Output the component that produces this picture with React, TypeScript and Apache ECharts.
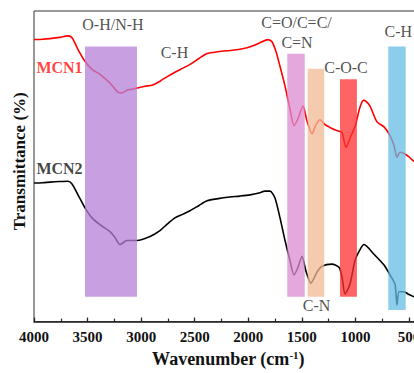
import React, { useEffect, useRef } from "react";
import * as echarts from "echarts";

// MCN1 (red) spectrum: wavenumber (cm-1) and transmittance (a.u., 0-100)
const waveMCN1 = [4000, 3920, 3851, 3760, 3683, 3645, 3589, 3524, 3459, 3384, 3291, 3216, 3179, 3132, 3085, 3039, 2964, 2899, 2824, 2760, 2684, 2610, 2544, 2460, 2385, 2280, 2171, 2090, 2012, 1950, 1891, 1816, 1779, 1741, 1704, 1657, 1611, 1573, 1536, 1489, 1452, 1405, 1368, 1331, 1284, 1247, 1210, 1172, 1125, 1088, 1041, 1004, 957, 920, 864, 799, 733, 677, 640, 612, 584, 547, 500, 453, 400];
const transMCN1 = [90.8, 90.9, 91.1, 91.5, 92.0, 91.4, 87.6, 83.8, 81.2, 79.6, 76.8, 73.9, 73.6, 74.5, 74.8, 75.2, 75.8, 76.1, 77.4, 78.8, 80.3, 81.6, 82.8, 84.7, 86.3, 86.9, 87.3, 87.6, 88.2, 88.9, 89.8, 90.8, 90.1, 86.9, 82.2, 75.8, 68.5, 63.1, 65.3, 69.4, 64.6, 60.5, 63.4, 65.0, 63.4, 62.7, 62.0, 61.5, 60.8, 56.1, 59.9, 62.7, 69.1, 71.3, 69.4, 64.3, 62.7, 59.9, 56.7, 52.9, 54.5, 54.1, 53.0, 51.6, 51.0];

// MCN2 (black) spectrum
const waveMCN2 = [4000, 3920, 3851, 3760, 3683, 3645, 3589, 3524, 3459, 3384, 3291, 3244, 3197, 3132, 3039, 2917, 2824, 2760, 2684, 2610, 2544, 2460, 2385, 2280, 2171, 2080, 1984, 1900, 1844, 1797, 1751, 1704, 1657, 1611, 1573, 1536, 1499, 1461, 1415, 1359, 1312, 1219, 1153, 1125, 1097, 1051, 1004, 957, 920, 827, 733, 677, 631, 612, 593, 547, 500, 453, 400];
const transMCN2 = [44.6, 44.7, 44.9, 45.1, 45.2, 44.3, 40.8, 36.6, 33.4, 31.2, 29.0, 27.1, 24.8, 26.1, 26.1, 27.4, 29.3, 31.3, 33.4, 34.6, 35.7, 37.4, 38.9, 39.6, 40.1, 40.4, 40.8, 41.4, 42.0, 42.0, 39.8, 33.4, 26.1, 19.7, 15.0, 17.5, 21.0, 16.2, 12.4, 15.9, 17.8, 18.5, 17.5, 14.3, 8.9, 12.1, 19.7, 23.2, 24.8, 21.7, 18.2, 15.0, 12.1, 5.4, 9.6, 9.6, 8.7, 8.0, 7.6];

// Highlighted bands: [from, to, bottom, top]
const bandFrom = [3524, 1636, 1446, 1144, 693];
const bandTo = [3039, 1473, 1291, 986, 531];
const bandBottom = [8.0, 8.0, 8.0, 8.0, 3.7];
const bandTop = [88.6, 86.2, 81.4, 78.0, 88.6];
const bandColors = ["#B680D7", "#DB8BD0", "#F2BA96", "#FF3030", "#66BCE4"];

// Annotation labels (anchored in data coordinates)
const labelTexts = ["O-H/N-H", "C-H", "MCN1", "MCN2", "C=O/C=C/", "C=N", "C-O-C", "C-H", "C-N"];
const labelWave = [3263, 2689, 3762, 3762, 1550, 1545, 1088, 600, 1362];
const labelTrans = [95.5, 86.6, 81.8, 49.4, 96.2, 89.9, 81.7, 93.3, 5.3];
const labelColors = ["#222", "#222", "#FF1010", "#111", "#222", "#222", "#222", "#222", "#222"];
const labelBold = [false, false, true, true, false, false, false, false, false];

const xTickMin = 0;
const xTickMax = 4000;
const xTickStep = 500;

const FONT = "'Liberation Serif', 'Times New Roman', serif";

export default function App() {
  const ref = useRef<HTMLDivElement>(null);

  useEffect(() => {
    if (!ref.current) return;
    const chart = echarts.init(ref.current, undefined, { renderer: "svg" });

    const mcn1 = waveMCN1.map((w, i) => [w, transMCN1[i]]);
    const mcn2 = waveMCN2.map((w, i) => [w, transMCN2[i]]);
    const bands = bandFrom.map((f, i) => [f, bandTo[i], bandBottom[i], bandTop[i], i]);
    const labels = labelTexts.map((t, i) => ({
      value: [labelWave[i], labelTrans[i]],
      name: t,
      label: {
        show: true,
        position: "inside",
        fontFamily: FONT,
        color: labelColors[i],
        fontWeight: labelBold[i] ? "bold" : "normal",
        fontSize: 16,
        formatter: t,
      },
    }));

    chart.setOption({
      animation: false,
      grid: {
        left: 34,
        top: 11,
        bottom: 48,
        right: 480 - (34 + 4000 * 0.10714),
        show: true,
        borderColor: "#333",
        borderWidth: 1,
      },
      xAxis: {
        type: "value",
        inverse: true,
        min: xTickMin,
        max: xTickMax,
        interval: xTickStep,
        name: "Wavenumber (cm{sup|-1})",
        nameLocation: "middle",
        nameGap: 27,
        nameTextStyle: {
          fontFamily: FONT,
          fontWeight: "bold",
          fontSize: 18,
          color: "#111",
          padding: [0, 40, 0, 0],
          rich: {
            sup: {
              fontFamily: FONT,
              fontWeight: "bold",
              fontSize: 11,
              verticalAlign: "top",
              padding: [0, 0, 8, 0],
              color: "#111",
            },
          },
        },
        axisLine: { show: true, lineStyle: { color: "#222", width: 1.5 } },
        axisTick: { show: true, inside: true, length: 4, lineStyle: { color: "#222", width: 1.3 } },
        minorTick: { show: true, splitNumber: 2, length: 3, lineStyle: { color: "#222", width: 1.2 } },
        axisLabel: {
          fontFamily: FONT,
          fontWeight: "bold",
          fontSize: 15,
          color: "#111",
          margin: 8,
          formatter: (v: number) => String(v),
        },
        splitLine: { show: false },
      },
      yAxis: {
        type: "value",
        min: 0,
        max: 100,
        name: "Transmittance (%)",
        nameLocation: "middle",
        nameGap: 6,
        nameTextStyle: {
          fontFamily: FONT,
          fontWeight: "bold",
          fontSize: 17,
          color: "#111",
          padding: [0, 0, 0, 10],
        },
        axisLine: { show: true, lineStyle: { color: "#222", width: 1.5 } },
        axisTick: { show: false },
        axisLabel: { show: false },
        splitLine: { show: false },
      },
      series: [
        {
          name: "MCN1",
          type: "line",
          data: mcn1,
          showSymbol: false,
          smooth: 0.25,
          z: 2,
          lineStyle: { color: "#FF0000", width: 1.6 },
        },
        {
          name: "MCN2",
          type: "line",
          data: mcn2,
          showSymbol: false,
          smooth: 0.25,
          z: 2,
          lineStyle: { color: "#000000", width: 1.6 },
        },
        {
          type: "custom",
          z: 3,
          data: bands,
          renderItem: (params: any, api: any) => {
            const p1 = api.coord([api.value(0), api.value(3)]);
            const p2 = api.coord([api.value(1), api.value(2)]);
            return {
              type: "rect",
              shape: { x: p1[0], y: p1[1], width: p2[0] - p1[0], height: p2[1] - p1[1] },
              style: { fill: bandColors[api.value(4)], opacity: 0.75 },
            };
          },
        },
        {
          type: "scatter",
          z: 4,
          symbolSize: 1,
          itemStyle: { color: "rgba(0,0,0,0)" },
          data: labels,
        },
      ],
    });

    return () => chart.dispose();
  }, []);

  return (
    <div style={{ position: "fixed", left: 0, top: 0, width: 414, height: 373, overflow: "hidden", background: "#fff" }}>
      <div ref={ref} style={{ width: 480, height: 373 }} />
    </div>
  );
}
